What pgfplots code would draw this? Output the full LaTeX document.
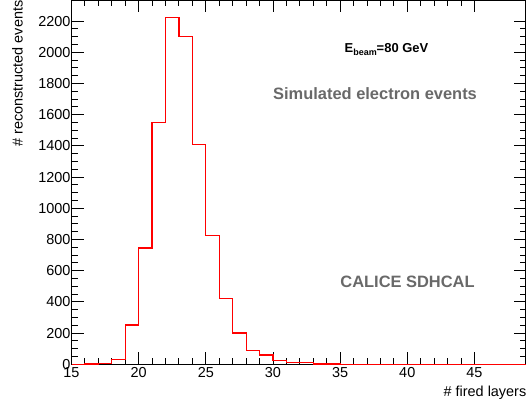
\documentclass[border=0pt]{standalone}
\usepackage{pgfplots}
\pgfplotsset{compat=1.18}
\usepackage{fontspec}
\setmainfont{Liberation Sans}
\definecolor{txtgray}{RGB}{105,105,105}
\begin{document}
\begin{tikzpicture}
\begin{axis}[
  at={(0,0)}, anchor=south west,
  scale only axis, width=454.5bp, height=364.3bp,
  xmin=15, xmax=48.84, ymin=0, ymax=2335,
  xtick={15,20,...,45}, ytick={0,200,...,2200},
  minor x tick num=4, minor y tick num=3,
  major tick length=12bp, minor tick length=6bp,
  tick style={black, line width=0.9bp},
  axis line style={line width=1.5bp},
  tick label style={font=\fontsize{14.5}{14.5}\selectfont},
  /pgf/number format/assume math mode=true,
  /pgf/number format/1000 sep={},
  yticklabel style={xshift=2.5bp},
  clip=false,
]
\addplot[const plot mark left, red, line width=1.2bp, mark=none] coordinates {
(15,0) (16,2) (17,5) (18,33) (19,252) (20,745) (21,1550) (22,2225) (23,2100)
(24,1410) (25,826) (26,420) (27,200) (28,86) (29,60) (30,22) (31,11) (32,10)
(33,2) (34,2) (35,1) (36,0) (37,0) (38,0) (39,0) (40,0) (41,0) (42,0) (43,0)
(44,0) (45,0) (46,0) (47,0) (48,0) (48.84,0)
};
\node[anchor=base, font=\fontsize{13}{13}\selectfont\bfseries] at (axis cs:38.45,1997)
  {E\raisebox{-2.5bp}{\fontsize{9}{9}\selectfont beam}=80 GeV};
\node[anchor=base, font=\fontsize{16.5}{16.5}\selectfont\bfseries, text=txtgray] at (axis cs:37.6,1698)
  {Simulated electron events};
\node[anchor=base, font=\fontsize{16.5}{16.5}\selectfont\bfseries, text=txtgray] at (axis cs:40.02,493)
  {CALICE SDHCAL};
\end{axis}
\node[anchor=base east, inner sep=0pt, font=\fontsize{14.5}{14.5}\selectfont] at (455bp,-31.7bp) {\# fired layers};
\node[rotate=90, anchor=base east, inner sep=0pt, font=\fontsize{14.5}{14.5}\selectfont] at (-48.8bp,364bp) {\# reconstructed events};
\pgfresetboundingbox
\path[use as bounding box] (-71.5bp,-38.7bp) rectangle (454.5bp,364.3bp);
\end{tikzpicture}
\end{document}
